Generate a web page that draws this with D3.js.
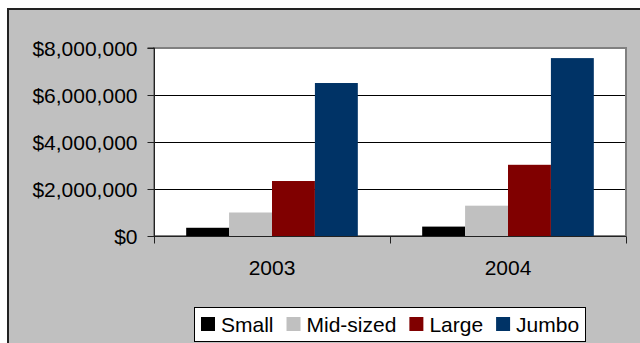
<!DOCTYPE html>
<html>
<head>
<meta charset="utf-8">
<script src="https://cdn.jsdelivr.net/npm/d3@7"></script>
<style>
  html, body { margin: 0; padding: 0; background: #ffffff; }
  svg { display: block; }
  text { font-family: "Liberation Sans", Arial, sans-serif; fill: #000; }
</style>
</head>
<body>
<svg id="chart" width="640" height="343"></svg>
<script>
const years = ["2003", "2004"];
const series = ["Small", "Mid-sized", "Large", "Jumbo"];
const small = [350000, 400000];
const midSized = [1000000, 1290000];
const large = [2340000, 3030000];
const jumbo = [6510000, 7570000];
const yTicks = [0, 2000000, 4000000, 6000000, 8000000];
const colors = ["#000000", "#c0c0c0", "#800000", "#003366"];

const valuesBySeries = [small, midSized, large, jumbo];

const svg = d3.select("#chart");
const W = 640, H = 343;
const plot = { left: 154, right: 626, top: 48, bottom: 236 };

// chart area background and border
svg.append("rect").attr("x", 0).attr("y", 0).attr("width", W).attr("height", H).attr("fill", "#ffffff");
svg.append("rect").attr("x", 8).attr("y", 9).attr("width", W + 10).attr("height", H + 10)
  .attr("fill", "#c0c0c0").attr("stroke", "#222").attr("stroke-width", 2);

// plot area
svg.append("rect").attr("x", plot.left).attr("y", plot.top)
  .attr("width", plot.right - plot.left).attr("height", plot.bottom - plot.top)
  .attr("fill", "#ffffff").attr("stroke", "#808080").attr("stroke-width", 2);

const x0 = d3.scaleBand().domain(years).range([plot.left, plot.right]).paddingInner(0).paddingOuter(0);
const bw = x0.bandwidth();
const bar = bw / 5.5;
const x1 = d3.scaleBand().domain(series).range([bar * 0.75, bw - bar * 0.75]).padding(0);
const y = d3.scaleLinear().domain([0, 8000000]).range([plot.bottom, plot.top]);

// gridlines
svg.append("g").selectAll("line").data(yTicks.filter(t => t > 0 && t < 8000000)).join("line")
  .attr("x1", plot.left).attr("x2", plot.right - 1)
  .attr("y1", d => Math.round(y(d)) + 0.5).attr("y2", d => Math.round(y(d)) + 0.5)
  .attr("stroke", "#000").attr("stroke-width", 1);

// bars
const data = [];
years.forEach((yr, i) => series.forEach((s, j) => data.push({ yr, s, j, v: valuesBySeries[j][i] })));
svg.append("g").selectAll("rect").data(data).join("rect")
  .attr("x", d => x0(d.yr) + x1(d.s))
  .attr("width", x1.bandwidth())
  .attr("y", d => y(d.v))
  .attr("height", d => y(0) - y(d.v))
  .attr("fill", d => colors[d.j]);

// y axis
const yAxis = d3.axisLeft(y).tickValues(yTicks).tickSize(7).tickPadding(10)
  .tickFormat(d => "$" + d3.format(",")(d));
const gy = svg.append("g").attr("transform", `translate(${plot.left + 0.5},0)`).call(yAxis);
gy.select(".domain").attr("stroke", "#222").attr("d", `M-7,${plot.top}H0V${plot.bottom + 7}`);
gy.selectAll(".tick line").attr("stroke", "#222");
gy.selectAll(".tick text").style("font-size", "21px").attr("font-family", null).attr("dy", "0.36em");

// x axis
const xAxis = d3.axisBottom(x0).tickSize(0).tickPadding(0);
const gx = svg.append("g").attr("transform", `translate(0,${plot.bottom + 0.5})`).call(xAxis);
gx.select(".domain").attr("stroke", "#222").attr("d", `M${plot.left},0H${plot.right}`);
gx.selectAll(".tick text").style("font-size", "21px").attr("font-family", null).attr("dy", null).attr("y", 38);
// category separator ticks
const sepTicks = [plot.left, x0(years[1]), plot.right];
gx.append("g").selectAll("line").data(sepTicks).join("line")
  .attr("x1", d => Math.round(d) + 0.5).attr("x2", d => Math.round(d) + 0.5)
  .attr("y1", 0).attr("y2", 7).attr("stroke", "#222");

// legend
const lg = svg.append("g");
lg.append("rect").attr("x", 194.5).attr("y", 307.5).attr("width", 391).attr("height", 34)
  .attr("fill", "#ffffff").attr("stroke", "#000").attr("stroke-width", 1);
let lx = 201;
series.forEach((s, j) => {
  lg.append("rect").attr("x", lx).attr("y", 317).attr("width", 14).attr("height", 14).attr("fill", colors[j]);
  const t = lg.append("text").attr("x", lx + 20).attr("y", 331.5).style("font-size", "21px").text(s);
  lx += 20 + t.node().getComputedTextLength() + 13;
});
</script>
</body>
</html>
